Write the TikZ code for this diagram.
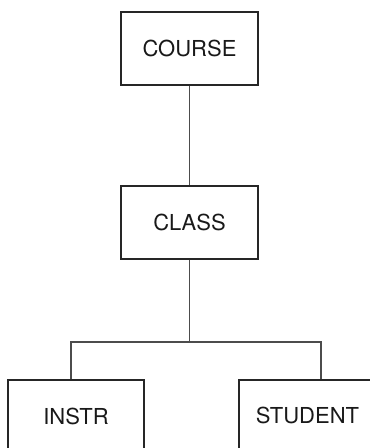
\documentclass[tikz,border=0pt]{standalone}
\usepackage{fontspec}
\setmainfont{TeX Gyre Heros}
\begin{document}
\begin{tikzpicture}[x=1pt,y=-1pt,
  entbox/.style={draw=black!85, line width=1.3pt, minimum width=137pt, minimum height=73pt, inner sep=0pt, font=\fontsize{22}{25}\selectfont, text=black!90},
  link/.style={draw=black!70, line width=1.9pt}]
\useasboundingbox (0,0) rectangle (370,448);
\clip (0,0) rectangle (370,448);
\node[entbox] (course) at (189.5,48.5) {COURSE};
\node[entbox] (class) at (189.5,222.5) {CLASS};
\node[entbox, minimum width=136pt] (instr) at (76,416.5) {\raisebox{-2pt}{INSTR}};
\node[entbox] (student) at (307.5,416.5) {\raisebox{2pt}{STUDENT}};
\coordinate (junc) at (189.5,342);
\draw[link] (course.south) -- (class.north);
\draw[link] (class.south) -- (junc);
\draw[link] ([xshift=64pt]instr.north west) |- (junc) -| ([xshift=83pt]student.north west);
\end{tikzpicture}
\end{document}
